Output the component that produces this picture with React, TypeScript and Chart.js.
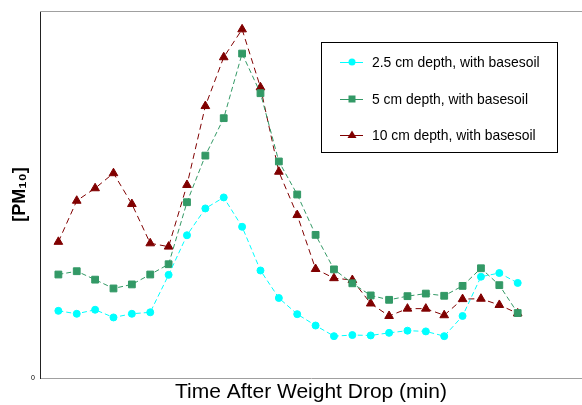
import React, { useEffect, useRef } from "react";
import { Chart, registerables } from "chart.js";

Chart.register(...registerables);

const sampleIdx = [0, 1, 2, 3, 4, 5, 6, 7, 8, 9, 10, 11, 12, 13, 14, 15, 16, 17, 18, 19, 20, 21, 22, 23, 24, 25];

const depth25 = [18.3, 17.5, 18.6, 16.5, 17.5, 17.9, 28.1, 38.9, 46.2, 49.2, 41.2, 29.3, 21.8, 17.4, 14.3, 11.4, 11.7, 11.6, 12.3, 12.9, 12.7, 11.4, 16.9, 27.6, 28.6, 25.9];
const depth5 = [28.2, 29.1, 26.8, 24.4, 25.5, 28.2, 31.0, 47.9, 60.6, 70.8, 88.4, 77.6, 59.0, 50.0, 39.0, 29.6, 25.8, 22.5, 21.3, 22.3, 23.0, 22.4, 25.1, 29.9, 25.3, 17.7];
const depth10 = [37.1, 48.3, 51.7, 55.8, 47.4, 36.7, 35.8, 52.6, 74.1, 87.4, 95.0, 79.2, 56.2, 44.4, 29.7, 27.2, 26.7, 20.3, 16.9, 18.9, 18.9, 17.1, 21.5, 21.6, 19.9, 17.6];

const seriesLabels = ["2.5 cm depth, with basesoil", "5 cm depth, with basesoil", "10 cm depth, with basesoil"];
const yTickValues = [0];

const FONT = "'Liberation Sans', Arial, sans-serif";

const frameAndLegend = {
  id: "frameAndLegend",
  afterDraw(chart: any) {
    const { ctx, chartArea } = chart;
    ctx.save();
    ctx.strokeStyle = "#a0a0a0";
    ctx.lineWidth = 1;
    ctx.beginPath();
    ctx.moveTo(chartArea.left, chartArea.top + 0.5);
    ctx.lineTo(chartArea.right, chartArea.top + 0.5);
    ctx.stroke();

    const bx = 321, by = 42, bw = 236, bh = 110;
    ctx.fillStyle = "#ffffff";
    ctx.fillRect(bx, by, bw, bh);
    ctx.strokeStyle = "#000000";
    ctx.strokeRect(bx + 0.5, by + 0.5, bw, bh);
    const rows = [62, 99, 135];
    chart.data.datasets.forEach((ds: any, i: number) => {
      const y = rows[i];
      ctx.strokeStyle = ds.borderColor;
      ctx.lineWidth = 1;
      ctx.setLineDash([]);
      ctx.beginPath();
      ctx.moveTo(340, y + 0.5);
      ctx.lineTo(363, y + 0.5);
      ctx.stroke();
      ctx.fillStyle = ds.pointBackgroundColor;
      const style = ds.pointStyle;
      ctx.beginPath();
      if (style === "circle") {
        ctx.arc(352, y, 3.5, 0, Math.PI * 2);
      } else if (style === "rect") {
        ctx.rect(348.5, y - 3.5, 7, 7);
      } else {
        ctx.moveTo(352, y - 4.5);
        ctx.lineTo(356.5, y + 3);
        ctx.lineTo(347.5, y + 3);
        ctx.closePath();
      }
      ctx.fill();
      ctx.fillStyle = "#000000";
      ctx.font = `13.9px ${FONT}`;
      ctx.textBaseline = "middle";
      ctx.textAlign = "left";
      ctx.fillText(ds.label, 372, y + 1);
    });
    ctx.restore();
  },
};

export default function App() {
  const ref = useRef<HTMLCanvasElement | null>(null);

  useEffect(() => {
    document.body.style.margin = "0";
    const canvas = ref.current!;
    const mk = (vals: number[]) => sampleIdx.map((x, i) => ({ x, y: vals[i] }));
    const chart = new Chart(canvas, {
      type: "line",
      data: {
        datasets: [
          {
            label: seriesLabels[0],
            data: mk(depth25),
            borderColor: "#00ffff",
            backgroundColor: "#00ffff",
            pointBackgroundColor: "#00ffff",
            pointBorderColor: "#00ffff",
            pointStyle: "circle",
            pointRadius: 3.5,
            borderWidth: 1,
            borderDash: [5, 3],
            tension: 0,
          },
          {
            label: seriesLabels[1],
            data: mk(depth5),
            borderColor: "#339966",
            backgroundColor: "#339966",
            pointBackgroundColor: "#339966",
            pointBorderColor: "#339966",
            pointStyle: "rect",
            pointRadius: 4.8,
            borderWidth: 1,
            borderDash: [5, 3],
            tension: 0,
          },
          {
            label: seriesLabels[2],
            data: mk(depth10),
            borderColor: "#800000",
            backgroundColor: "#800000",
            pointBackgroundColor: "#800000",
            pointBorderColor: "#800000",
            pointStyle: "triangle",
            pointRadius: 5,
            borderWidth: 1,
            borderDash: [6, 4],
            tension: 0,
          },
        ],
      },
      options: {
        animation: false,
        responsive: false,
        devicePixelRatio: 1,
        layout: { autoPadding: false, padding: { top: 11, left: 0, right: 0, bottom: 0 } },
        plugins: {
          legend: { display: false },
          tooltip: { enabled: false },
        },
        scales: {
          x: {
            type: "linear",
            min: -1,
            max: 28.5,
            grid: { display: false, drawTicks: false },
            border: { display: true, color: "#a0a0a0", width: 1 },
            ticks: { display: false },
            title: {
              display: true,
              text: "Time After Weight Drop (min)",
              color: "#000000",
              font: { family: FONT, size: 21, lineHeight: 1.2 },
              padding: { top: 2, bottom: 0 },
            },
            afterFit(scale: any) {
              scale.height = 27;
            },
          },
          y: {
            min: 0,
            max: 100,
            grid: { display: false, drawTicks: false },
            border: { display: true, color: "#222222", width: 1 },
            afterBuildTicks(scale: any) {
              scale.ticks = yTickValues.map((v) => ({ value: v }));
            },
            ticks: {
              color: "#000000",
              font: { family: FONT, size: 7 },
              padding: 5,
            },
            title: {
              display: true,
              text: "[PM\u2081\u2080]",
              color: "#000000",
              font: { family: FONT, size: 18, weight: "bold", lineHeight: 1.2 },
              padding: { top: 9, bottom: 0 },
            },
            afterFit(scale: any) {
              scale.width = 40;
            },
          },
        },
      },
      plugins: [frameAndLegend],
    });
    return () => chart.destroy();
  }, []);

  return (
    <div style={{ width: 582, height: 405 }}>
      <canvas ref={ref} width={582} height={405} style={{ display: "block" }} />
    </div>
  );
}
